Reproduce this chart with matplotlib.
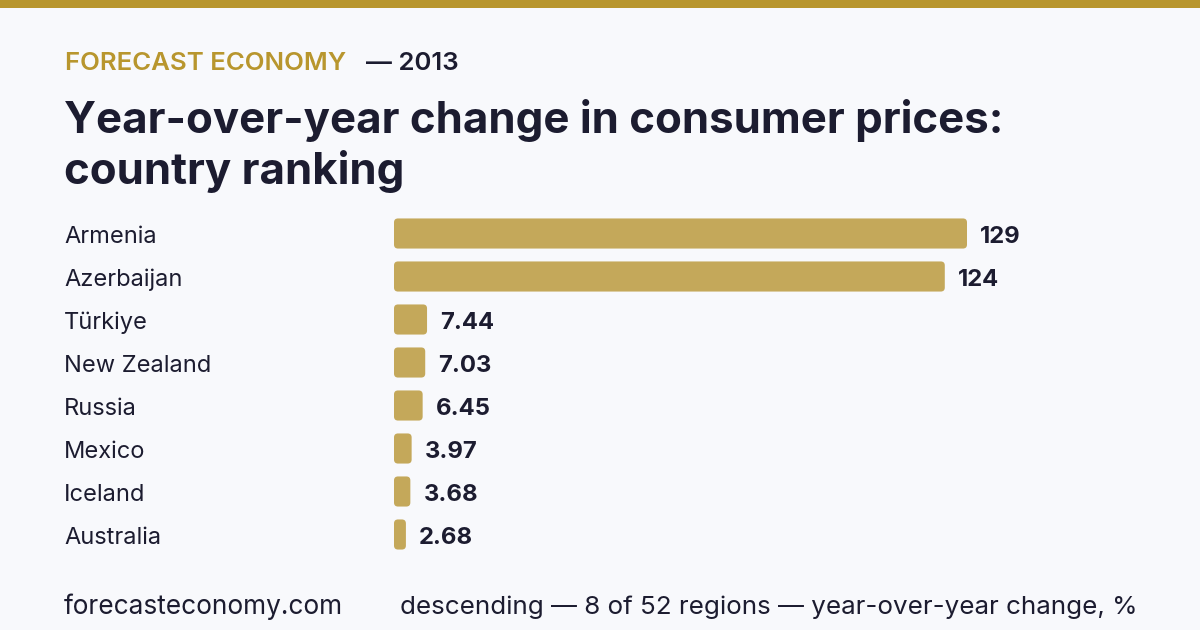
import matplotlib.pyplot as plt
import matplotlib.transforms as mtransforms
from matplotlib.patches import FancyBboxPatch, Rectangle

plt.rcParams['font.family'] = ['Inter', 'DejaVu Sans']

countries = ["Armenia", "Azerbaijan", "Türkiye", "New Zealand", "Russia",
             "Mexico", "Iceland", "Australia"]
values = [129, 124, 7.44, 7.03, 6.45, 3.97, 3.68, 2.68]
value_labels = ["129", "124", "7.44", "7.03", "6.45", "3.97", "3.68", "2.68"]

W, H = 1200, 630
BG = "#F8F9FC"
GOLD = "#B8962E"
BAR = "#C4A85A"
INK = "#1C1C30"


def fx(px):
    return px / W


def fy(py):
    return 1 - py / H


fig = plt.figure(figsize=(W / 100, H / 100), dpi=100, facecolor=BG)

# top band
fig.patches.append(Rectangle((0, fy(8)), 1, 8 / H, transform=fig.transFigure,
                             facecolor=GOLD, edgecolor="none"))

fig.text(fx(65), fy(70), "FORECAST ECONOMY", color=GOLD, fontsize=18.6,
         fontweight="semibold", va="baseline")
fig.text(fx(366), fy(70), "— 2013", color=INK, fontsize=18.6,
         fontweight="semibold", va="baseline")
fig.text(fx(64), fy(133), "Year-over-year change in consumer prices:",
         color=INK, fontsize=31.5, fontweight="bold", va="baseline")
fig.text(fx(64), fy(184), "country ranking",
         color=INK, fontsize=31.5, fontweight="bold", va="baseline")

# bars
left_px, right_px = 394, 1134
top_px, bot_px = 212, 556
ax = fig.add_axes([fx(left_px), fy(bot_px), (right_px - left_px) / W,
                   (bot_px - top_px) / H])
ax.set_facecolor("none")
px_per_unit = (967 - left_px) / values[0]
ax.set_xlim(0, (right_px - left_px) / px_per_unit)
ax.set_ylim(len(values) - 0.5, -0.5)
ax.axis("off")

row_px = (bot_px - top_px) / len(values)
bar_h = 0.7
r_px = 4
for i, (v, lab) in enumerate(zip(values, value_labels)):
    patch = FancyBboxPatch((0, i - bar_h / 2), v, bar_h,
                           boxstyle=f"round,pad=0,rounding_size={r_px / px_per_unit}",
                           mutation_aspect=px_per_unit / row_px,
                           facecolor=BAR, edgecolor="none")
    ax.add_patch(patch)
    ax.annotate(lab, (v, i + 0.08), xytext=(9.5, 0), textcoords="offset points",
                va="center", ha="left", fontsize=17.2, fontweight="bold",
                color=INK)

trans = mtransforms.blended_transform_factory(fig.transFigure, ax.transData)
for i, c in enumerate(countries):
    ax.text(fx(64), i + 0.08, c, transform=trans, va="center", ha="left",
            fontsize=17, color=INK)

fig.text(fx(64), fy(614), "forecasteconomy.com", color=INK, fontsize=18.9,
         va="baseline")
fig.text(fx(400), fy(614),
         "descending — 8 of 52 regions — year-over-year change, %",
         color=INK, fontsize=18.7, va="baseline")

fig.savefig("out.png", dpi=100, facecolor=BG)
